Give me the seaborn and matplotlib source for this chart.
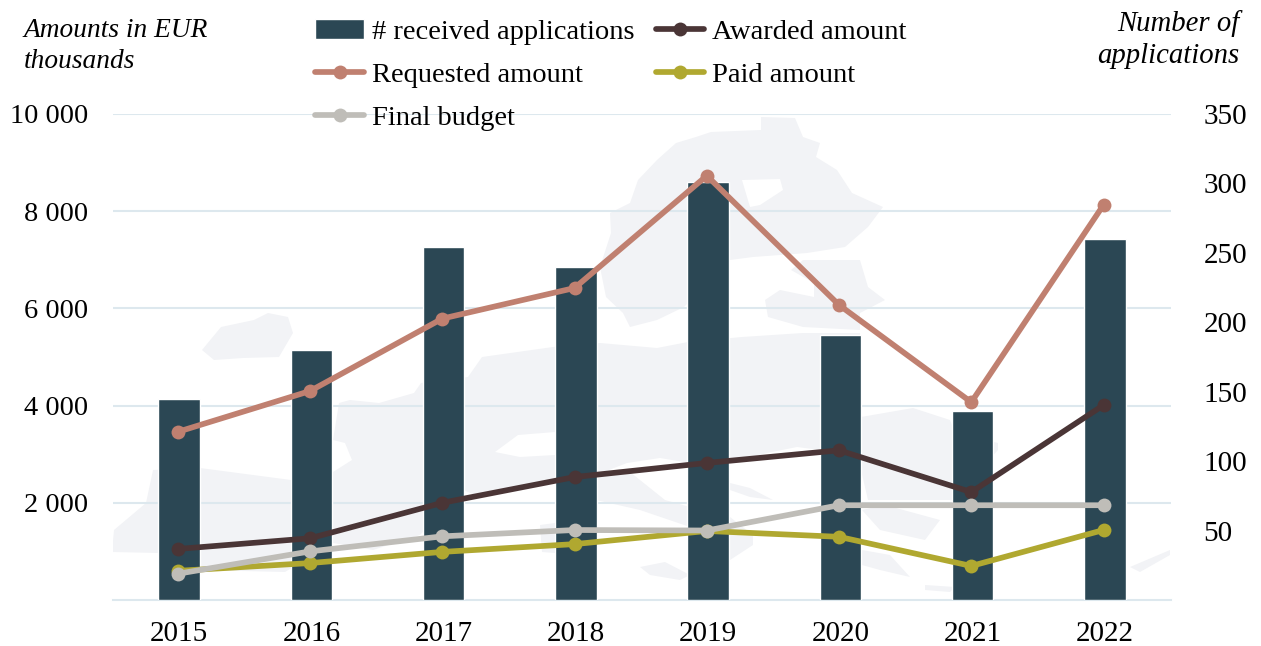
import matplotlib
matplotlib.use("Agg")
import matplotlib.pyplot as plt
from matplotlib.patches import Polygon
import numpy as np
import pandas as pd
import seaborn as sns

years = ["2015", "2016", "2017", "2018", "2019", "2020", "2021", "2022"]
applications = [145, 180, 254, 240, 301, 191, 136, 260]
requested = [3460, 4300, 5790, 6420, 8730, 6070, 4070, 8130]
awarded = [1050, 1270, 2000, 2530, 2820, 3080, 2220, 4010]
paid = [600, 760, 990, 1150, 1420, 1300, 700, 1440]
final_budget = [540, 1000, 1310, 1440, 1430, 1950, 1950, 1950]

left_ticks = [2000, 4000, 6000, 8000, 10000]
left_labels = ["2 000", "4 000", "6 000", "8 000", "10 000"]
right_ticks = [50, 100, 150, 200, 250, 300, 350]

# faint background map, rough outlines in image pixels
map_land = [
    [(202, 350), (221, 327), (254, 320), (268, 313), (288, 317), (293, 333), (279, 357), (243, 358), (214, 360)],
    [(761, 117), (795, 118), (803, 137), (820, 143), (816, 157), (837, 170), (852, 193), (883, 207), (868, 227),
     (845, 247), (807, 253), (753, 257), (730, 260), (684, 307), (657, 320), (630, 327), (623, 313), (606, 297),
     (600, 267), (611, 233), (610, 213), (630, 203), (638, 180), (657, 160), (676, 143), (696, 137), (711, 132),
     (761, 130)],
    [(803, 260), (860, 260), (868, 287), (885, 300), (860, 313), (860, 330), (803, 327), (768, 317), (765, 300),
     (780, 290), (814, 297), (814, 283), (791, 270)],
    # mainland
    [(112, 552), (114, 530), (146, 503), (153, 470), (200, 468), (291, 480), (333, 472), (352, 460), (345, 443),
     (333, 440), (339, 403), (350, 400), (379, 403), (414, 393), (421, 383), (468, 377), (482, 357), (553, 347),
     (600, 343), (657, 348), (688, 342), (742, 337), (803, 333), (860, 333), (861, 417), (913, 408), (950, 420),
     (955, 433), (998, 443), (998, 450), (952, 500), (868, 500), (861, 470), (820, 450), (797, 447), (767, 453),
     (730, 463), (690, 463), (660, 458), (627, 463), (596, 475), (555, 480), (480, 497), (463, 490), (420, 535),
     (373, 550), (333, 543), (285, 572), (200, 570), (159, 553)],
    # boot
    [(596, 478), (630, 472), (665, 500), (690, 507), (730, 517), (753, 535), (753, 545), (730, 560), (700, 545),
     (690, 527), (640, 510), (596, 500)],
    [(730, 483), (750, 488), (773, 500), (750, 497), (730, 490)],
    [(640, 567), (665, 562), (690, 575), (680, 580), (650, 575)],
    [(540, 525), (555, 523), (555, 553), (542, 552)],
    [(862, 510), (885, 505), (940, 520), (925, 540), (880, 530)],
    [(862, 550), (890, 555), (910, 577), (880, 570), (862, 565)],
    [(925, 585), (955, 587), (950, 592), (925, 590)],
    [(1130, 567), (1170, 550), (1170, 555), (1140, 572)],
]
map_holes = [
    [(742, 180), (780, 179), (783, 190), (760, 205), (750, 207)],
    [(495, 452), (518, 435), (555, 432), (555, 455), (520, 457)],
]

W, H = 1261, 646
L, R, T, B = 113, 1171, 114, 600


def to_axes(points):
    return [((x - L) / (R - L), (B - y) / (B - T)) for x, y in points]


sns.set_style("white")
plt.rcParams["font.family"] = ["Liberation Serif", "DejaVu Serif"]
plt.rcParams["font.size"] = 20
plt.rcParams["text.color"] = "black"

fig = plt.figure(figsize=(W / 100, H / 100), dpi=100)
ax = fig.add_axes([L / W, 1 - B / H, (R - L) / W, (B - T) / H])
ax_bar = ax.twinx()
ax_line = ax.twinx()

for pts in map_land:
    ax.add_patch(Polygon(to_axes(pts), closed=True, transform=ax.transAxes, fc="#f2f3f6", ec="none", zorder=0))
for pts in map_holes:
    ax.add_patch(Polygon(to_axes(pts), closed=True, transform=ax.transAxes, fc="white", ec="none", zorder=0.5))

data = pd.DataFrame({"year": years, "applications": applications})
sns.barplot(data=data, x="year", y="applications", color="#2b4754", saturation=1, width=0.312, ax=ax_bar,
            label="# received applications", legend=False)

series = [
    ("Requested amount", requested, "#c08070"),
    ("Awarded amount", awarded, "#4a3536"),
    ("Paid amount", paid, "#b0a830"),
    ("Final budget", final_budget, "#bfbdb8"),
]
xpos = np.arange(len(years)) - 0.01
for name, values, color in series:
    sns.lineplot(x=xpos, y=values, color=color, lw=4.1, marker="o", ms=10, mec=color, mew=0,
                 solid_capstyle="round", ax=ax_line, label=name)

ax.set_xlim(-0.5, 7.5)
ax_bar.set_xlim(-0.5, 7.5)
ax_line.set_xlim(-0.5, 7.5)
ax.set_ylim(0, 10000)
ax_line.set_ylim(0, 10000)
ax_bar.set_ylim(0, 350)

ax.set_yticks(left_ticks, left_labels)
ax.set_xticks(range(len(years)), years)
ax.grid(axis="y", color="#dde8ee", lw=1.5)
ax.set_axisbelow(True)
ax.tick_params(axis="y", length=0, pad=18, labelsize=20.4, labelcolor="black")
ax.tick_params(axis="x", length=0, pad=15, labelsize=21, labelcolor="black")
ax.set_xlabel("")
ax.set_ylabel("")

ax_bar.yaxis.tick_right()
ax_bar.set_yticks(right_ticks)
ax_bar.tick_params(axis="y", length=0, pad=23.5, labelsize=21, labelright=True, labelcolor="black")
ax_bar.tick_params(axis="x", length=0, labelbottom=False)
ax_bar.set_xlabel("")
ax_bar.set_ylabel("")
ax_line.set_yticks([])
ax_line.set_ylabel("")

for a in (ax, ax_bar, ax_line):
    for s in a.spines.values():
        s.set_visible(False)
ax.spines["bottom"].set_visible(True)
ax.spines["bottom"].set_color("#dde8ee")
ax.spines["bottom"].set_linewidth(1.5)
ax_bar.patch.set_visible(False)
ax_line.patch.set_visible(False)

bar_h = [c for c in ax_bar.containers]
line_h, line_l = ax_line.get_legend_handles_labels()
ax_line.get_legend().remove()
handles = bar_h + [line_h[0], line_h[3], line_h[1], line_h[2]]
labels = ["# received applications", line_l[0], line_l[3], line_l[1], line_l[2]]
fig.legend(handles, labels, ncol=2, frameon=False, fontsize=20.5, loc="upper left",
           bbox_to_anchor=(304 / W, 1 - 8 / H), handlelength=1.7, handletextpad=0.29,
           columnspacing=0.74, labelspacing=0.6, borderpad=0.4, borderaxespad=0)

fig.text(24 / W, 1 - 18 / H, "Amounts in EUR\nthousands", style="italic", fontsize=19.7, ha="left", va="top",
         linespacing=1.32)
fig.text(1239 / W, 1 - 10 / H, "Number of\napplications", style="italic", fontsize=20.7, ha="right", va="top",
         linespacing=1.28)

fig.savefig("out.png", dpi=100)
